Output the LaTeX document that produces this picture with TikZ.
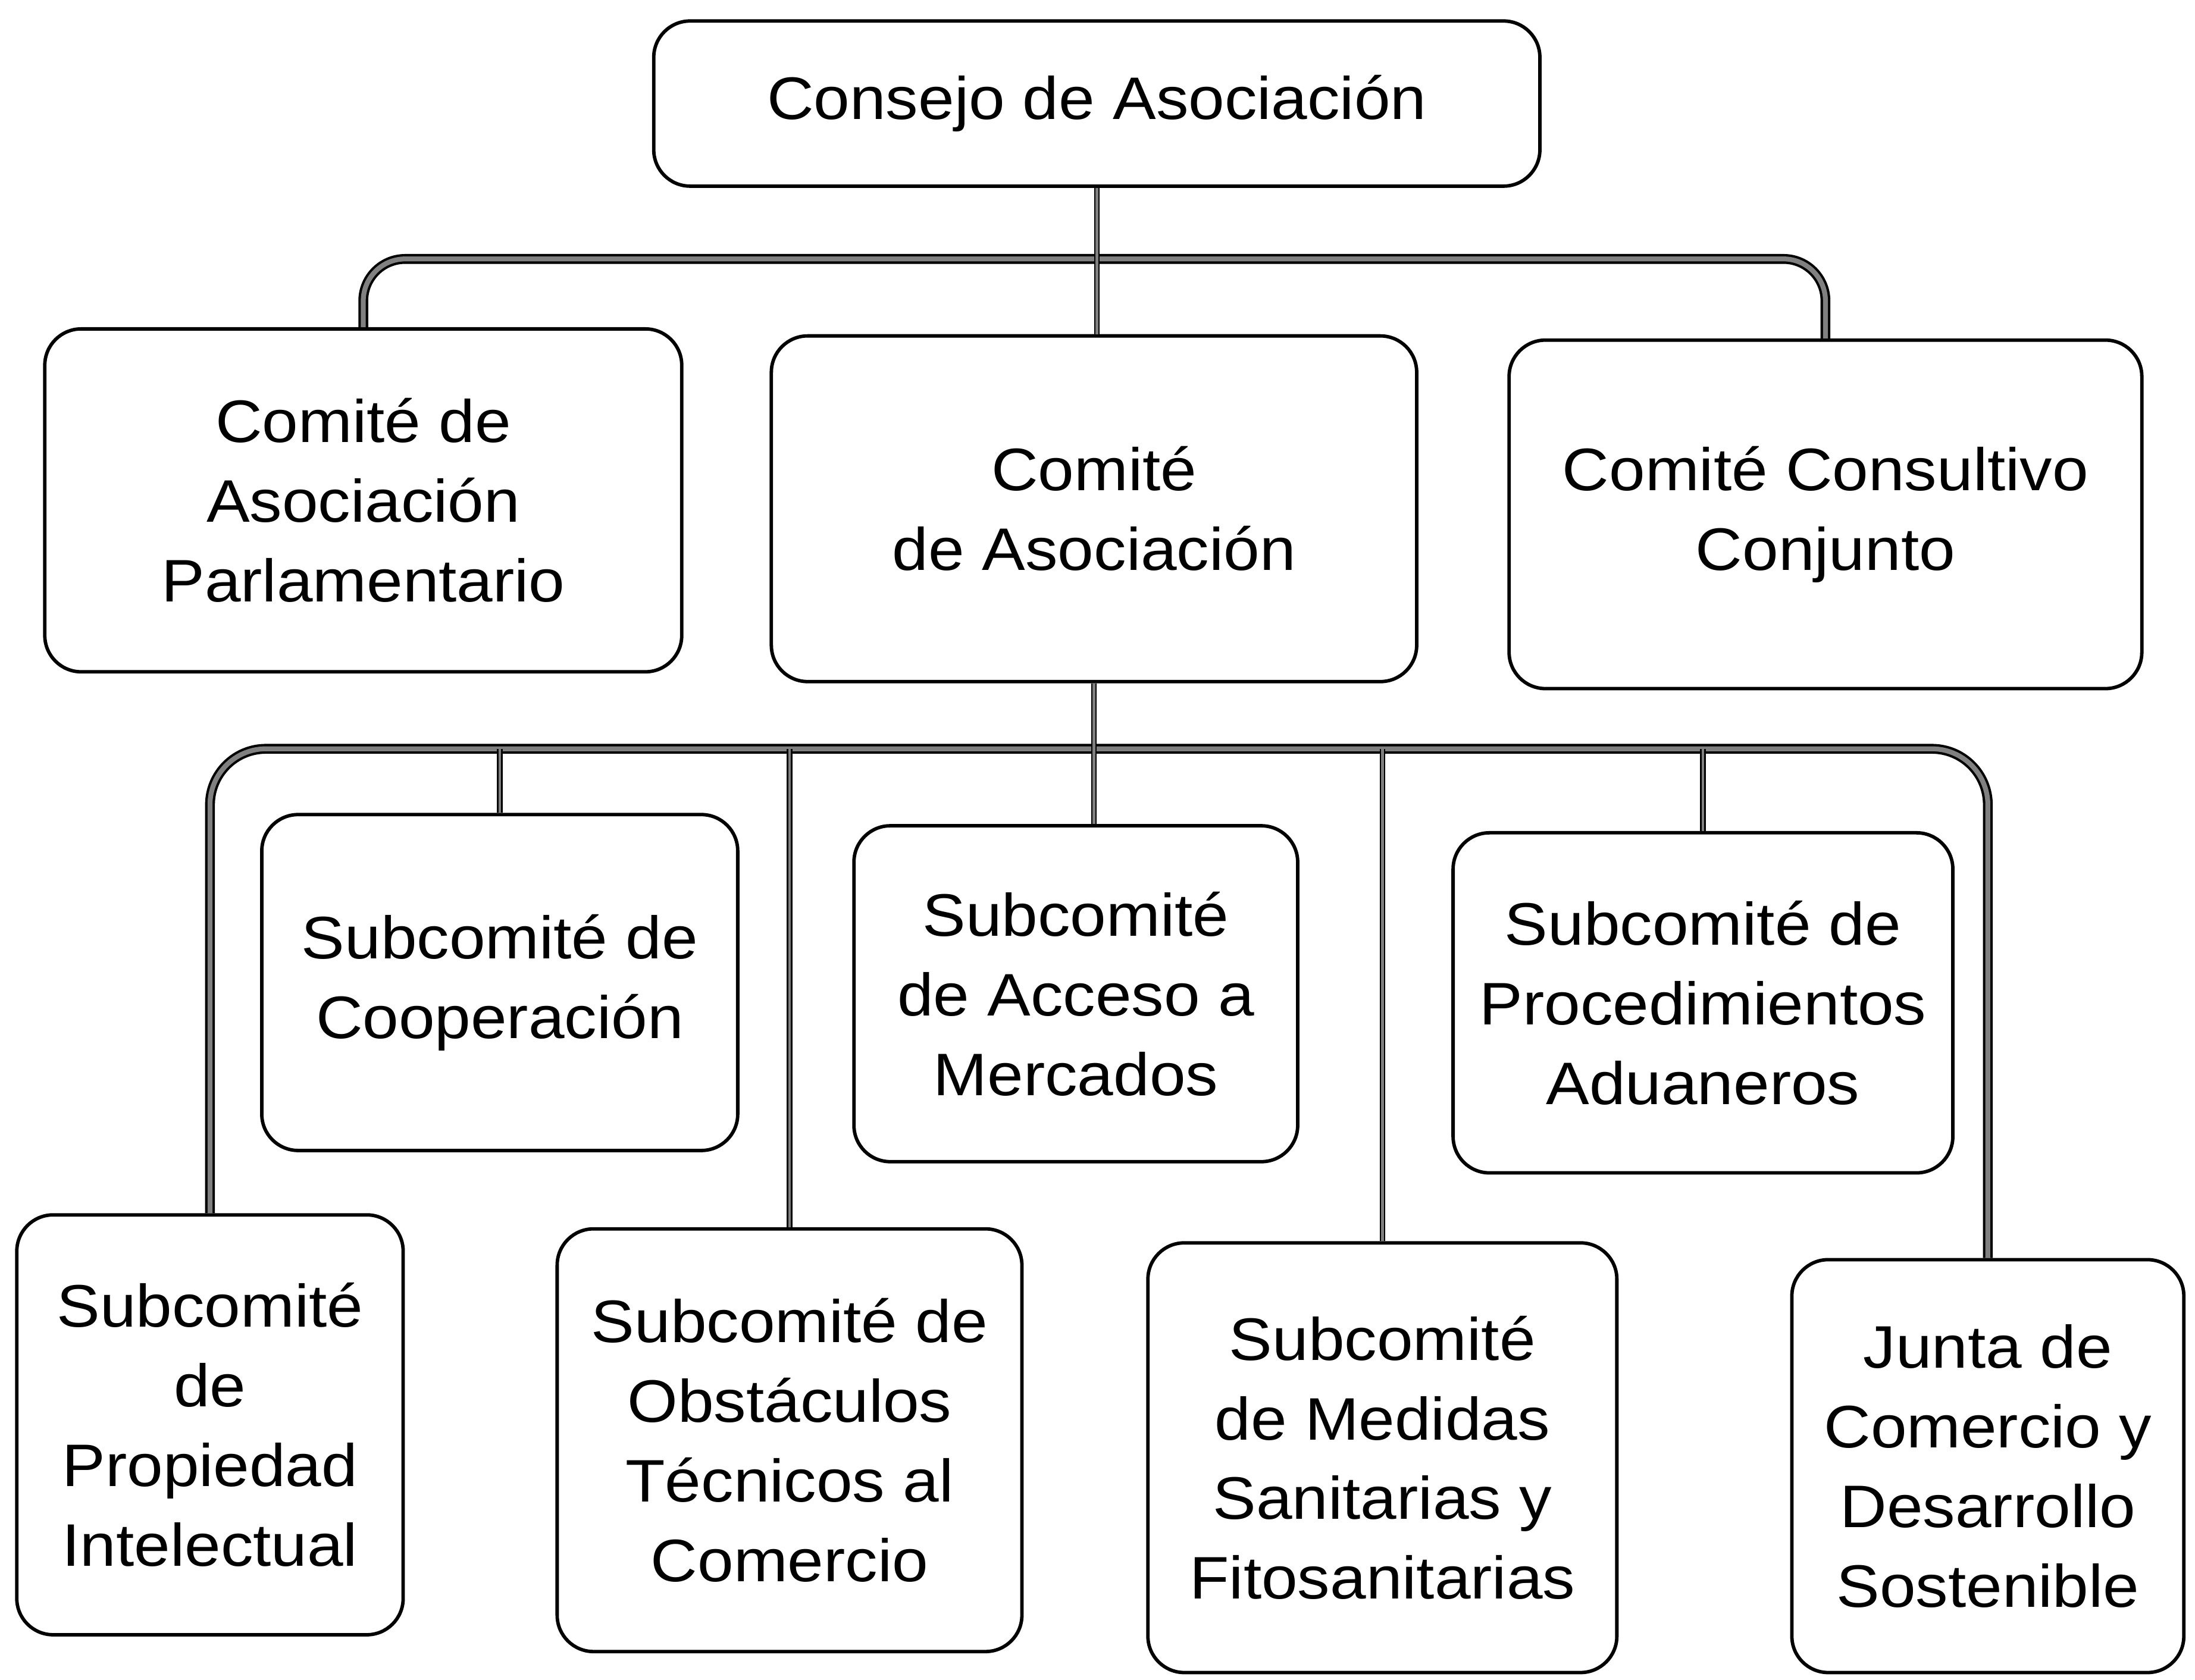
\documentclass[tikz,border=0pt]{standalone}
\usepackage{fontspec}
\setmainfont{Liberation Sans}[FakeStretch=1.08]

\begin{document}
\begin{tikzpicture}[
					cnode/.style={draw,rounded corners=0.26cm,line width=0.7pt,align=center,inner sep=2pt,font=\fontsize{12.2}{16.2}\selectfont},
					bedge/.style={draw=black,line width=0.5pt,double=gray,double distance=1pt,rounded corners=0.3cm},
					tedge/.style={draw=black,line width=0.3pt,double=gray,double distance=0.55pt}
					]
					\useasboundingbox (0,0) rectangle (15.68,12);
					\node[cnode,minimum width=6.33cm,minimum height=1.18cm] (cons) at (7.835,11.26) {Consejo de Asociación};
					\foreach \nm/\x/\y/\w/\h/\lab in {cap/2.595/8.425/4.55/2.45/Comité de\\Asociación\\Parlamentario,cda/7.815/8.365/4.61/2.47/Comité\\de Asociación,ccc/13.04/8.325/4.52/2.49/Comité Consultivo\\Conjunto}{
						\node[cnode,minimum width=\w cm,minimum height=\h cm] (\nm) at (\x,\y) {\lab};
					}
					\foreach \i/\x/\y/\w/\h/\lab in {1/3.57/4.98/3.40/2.40/Subcomité de\\Cooperación,2/7.685/4.90/3.17/2.40/Subcomité\\de Acceso a\\Mercados,3/12.165/4.835/3.57/2.43/Subcomité de\\Procedimientos\\Aduaneros,4/1.50/1.82/2.76/3.00/Subcomité\\de\\Propiedad\\Intelectual,5/5.64/1.71/3.32/3.02/Subcomité de\\Obstáculos\\Técnicos al\\Comercio,6/9.875/1.585/3.35/3.07/Subcomité\\de Medidas\\Sanitarias y\\Fitosanitarias,7/14.20/1.525/2.80/2.95/Junta de\\Comercio y\\Desarrollo\\Sostenible}{
						\node[cnode,minimum width=\w cm,minimum height=\h cm] (sc\i) at (\x,\y) {\lab};
					}
					% first level
					\coordinate (bus1) at (7.8,10.15);
					\draw[bedge] (cap.north) |- (bus1) -| (ccc.north);
					\draw[tedge] (cons.south) -- (cons.south |- cda.north);
					% second level
					\coordinate (bus2) at (7.8,6.65);
					\draw[bedge,rounded corners=0.4cm] (sc4.north) |- (bus2) -| (sc7.north);
					\draw[tedge] (cda.south) -- (cda.south |- sc2.north);
					\foreach \i in {1,3,5,6}{
						\draw[tedge] (sc\i.north) -- (sc\i.north |- bus2);
					}
				\end{tikzpicture}
\end{document}
